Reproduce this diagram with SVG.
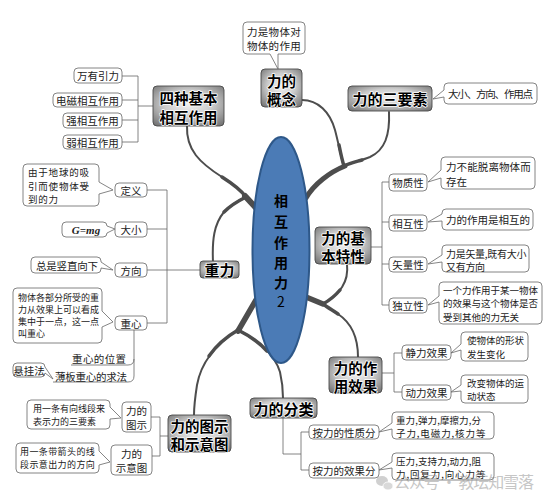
<svg xmlns="http://www.w3.org/2000/svg" width="552" height="501" viewBox="0 0 552 501">
<defs>
<radialGradient id="g" cx="50%" cy="45%" r="75%">
<stop offset="0" stop-color="#f2f2f2"/>
<stop offset="0.45" stop-color="#cccccc"/>
<stop offset="1" stop-color="#666666"/>
</radialGradient>
</defs>
<style>
.main rect{fill:url(#g);stroke:#4a4a4a;stroke-width:0.9}
.main text{font-family:"Noto Sans CJK SC","Noto Sans",sans-serif;font-weight:700;font-size:14.5px;fill:#000;stroke:#fff;stroke-width:1.5;stroke-linejoin:round;paint-order:stroke;text-anchor:middle;dominant-baseline:central}
.leaf rect,.leaf path{fill:#fff;stroke:#666;stroke-width:0.8}
.leaf text{font-family:"Noto Sans CJK SC","Noto Sans",sans-serif;font-size:10.5px;fill:#222;dominant-baseline:central}
.c{text-anchor:middle}
.br{fill:none;stroke:#4d4d4d;stroke-linecap:round}
.thin{fill:none;stroke:#666;stroke-width:0.8}
.plain{font-family:"Noto Sans CJK SC","Noto Sans",sans-serif;font-size:10.5px;fill:#222;dominant-baseline:central}
</style>
<rect width="552" height="501" fill="#fff"/>

<g id="connectors">
<path class="br" stroke-width="2" d="M187,126 C186,150 200,163 222,177 C233,184 241,190 246,197"/>
<path class="br" stroke-width="2" d="M213,262 C212,240 214,224 224,212 C232,204 240,200 246,197"/>
<path class="br" stroke-width="3.5" d="M222,177 C233,184 241,190 246,197"/>
<path class="br" stroke-width="3.5" d="M224,212 C232,204 240,200 246,197"/>
<path class="br" stroke-width="6" d="M245,196 L257,209"/>

<path class="br" stroke-width="2" d="M302,100 C318,100 330,112 335,130 C339,145 341,158 344,166"/>
<path class="br" stroke-width="2" d="M389,112 C390,135 385,150 370,157 C360,161 350,163 344,166"/>
<path class="br" stroke-width="3.5" d="M339,145 C341,155 342,160 344,166"/>
<path class="br" stroke-width="3.5" d="M362,160 C355,162 350,163 344,166"/>
<path class="br" stroke-width="5" d="M345,166 C330,172 314,184 306,198"/>

<path class="br" stroke-width="2" d="M347,264 C349,282 340,294 323,304"/>
<path class="br" stroke-width="2" d="M358,357 C358,335 350,322 338,314 C332,310 327,307 323,304"/>
<path class="br" stroke-width="3.5" d="M340,290 C335,296 330,300 323,304"/>
<path class="br" stroke-width="3.5" d="M338,314 C332,310 327,307 323,304"/>
<path class="br" stroke-width="5.5" d="M323,304 L306,297"/>

<path class="br" stroke-width="2" d="M238,330 C216,344 201,363 197,385 C195,398 194,408 194,415"/>
<path class="br" stroke-width="2" d="M238,330 C258,340 275,355 280,372 C283,385 283,392 283,398"/>
<path class="br" stroke-width="3.5" d="M238,330 C226,337 216,346 209,356"/>
<path class="br" stroke-width="3.5" d="M238,330 C250,336 260,343 267,351"/>
<path class="br" stroke-width="5.5" d="M238,331 L256,300"/>

<path class="thin" d="M122,76 H138 M122,100 H138 M122,120 H138 M122,142 H138 M138,76 V142 M138,106 H153"/>
<path class="thin" d="M147,190 H167 M147,229 H167 M147,270 H200 M147,323 H167 M167,190 V323"/>
<path class="thin" d="M134,330 V376 Q134,382 128,382 H53 M134,359 Q134,365 128,365 H71"/>
<path class="thin" d="M371,247 H382 M382,182 V305 M382,182 H389 M382,222 H389 M382,264 H389 M382,305 H389"/>
<path class="thin" d="M382,373 H394 M394,353 V392 M394,353 H402 M394,392 H402"/>
<path class="thin" d="M283,418 V454 H301 M301,432 V470 M301,432 H309 M301,470 H309"/>
<path class="thin" d="M168,436 H160 M160,417 V456 M160,417 H151 M160,456 H152"/>
</g>

<g id="center">
<ellipse cx="281" cy="250" rx="28.5" ry="113" fill="#4b7bb6" stroke="#2e5889" stroke-width="2"/>
<text font-family="'Noto Sans CJK SC','Noto Sans',sans-serif" font-weight="700" font-size="14" fill="#000" text-anchor="middle" dominant-baseline="central"><tspan x="281" y="200">相</tspan><tspan x="281" y="221">互</tspan><tspan x="281" y="242">作</tspan><tspan x="281" y="262">用</tspan><tspan x="281" y="282">力</tspan><tspan x="281" y="301" font-weight="400">2</tspan></text>
</g>

<g id="n-sizhong" class="main"><rect x="153" y="86" width="71" height="40" rx="4"/><text><tspan x="188.5" y="97">四种基本</tspan><tspan x="188.5" y="116">相互作用</tspan></text></g>
<g id="n-gainian" class="main"><rect x="261" y="69" width="41" height="38" rx="4"/><text><tspan x="281.5" y="79.5">力的</tspan><tspan x="281.5" y="97.5">概念</tspan></text></g>
<g id="n-sanyaosu" class="main"><rect x="348" y="86" width="84" height="25" rx="4"/><text x="390" y="98.5" style="font-size:15px">力的三要素</text></g>
<g id="n-texing" class="main"><rect x="315" y="227" width="56" height="37" rx="4"/><text><tspan x="343" y="237">力的基</tspan><tspan x="343" y="255">本特性</tspan></text></g>
<g id="n-zhongli" class="main"><rect x="200" y="261" width="39" height="17" rx="3"/><text x="219.5" y="269.5" style="font-size:15px">重力</text></g>
<g id="n-xiaoguo" class="main"><rect x="329" y="357" width="53" height="36" rx="4"/><text><tspan x="355.5" y="366.5">力的作</tspan><tspan x="355.5" y="384.5">用效果</tspan></text></g>
<g id="n-fenlei" class="main"><rect x="250" y="398" width="67" height="20" rx="4"/><text x="283.5" y="408" style="font-size:15px">力的分类</text></g>
<g id="n-tushi" class="main"><rect x="168" y="415" width="63" height="37" rx="4"/><text><tspan x="199.5" y="424.5">力的图示</tspan><tspan x="199.5" y="442.5">和示意图</tspan></text></g>

<g id="l-wanyou" class="leaf"><rect x="74" y="68" width="48" height="15" rx="4"/><text class="c" x="98" y="75.5">万有引力</text></g>
<g id="l-dianci" class="leaf"><rect x="53" y="93" width="69" height="14" rx="4"/><text class="c" x="87.5" y="100">电磁相互作用</text></g>
<g id="l-qiang" class="leaf"><rect x="63" y="113" width="59" height="15" rx="4"/><text class="c" x="92.5" y="120.5">强相互作用</text></g>
<g id="l-ruo" class="leaf"><rect x="63" y="135" width="59" height="14" rx="4"/><text class="c" x="92.5" y="142">弱相互作用</text></g>

<g id="l-gainian-desc" class="leaf"><path d="M247,22 H301 Q305,22 305,26 V50 Q305,54 301,54 H278 L278,69 L270,54 H247 Q243,54 243,50 V26 Q243,22 247,22 Z"/><text letter-spacing="0.3"><tspan x="247" y="31">力是物体对</tspan><tspan x="247" y="45">物体的作用</tspan></text></g>
<g id="l-sanyaosu-desc" class="leaf"><path d="M448,83 H533 Q537,83 537,87 V100 Q537,104 533,104 H448 Q444,104 444,100 V97 L433,99 L444,90 V87 Q444,83 448,83 Z"/><text x="448" y="93.5" textLength="85">大小、方向、作用点</text></g>

<g id="l-wuzhi" class="leaf"><rect x="389" y="174" width="38" height="17" rx="4"/><text class="c" x="408" y="182.5">物质性</text></g>
<g id="l-xianghu" class="leaf"><rect x="389" y="215" width="38" height="16" rx="4"/><text class="c" x="408" y="223">相互性</text></g>
<g id="l-shiliang" class="leaf"><rect x="389" y="257" width="38" height="15" rx="4"/><text class="c" x="408" y="264.5">矢量性</text></g>
<g id="l-duli" class="leaf"><rect x="389" y="298" width="38" height="15" rx="4"/><text class="c" x="408" y="305.5">独立性</text></g>
<g id="l-wuzhi-desc" class="leaf"><path d="M445,157 H531 Q535,157 535,161 V185 Q535,189 531,189 H445 Q441,189 441,185 V178 L428,182 L441,170 V161 Q441,157 445,157 Z"/><text letter-spacing="0.1"><tspan x="446" y="166">力不能脱离物体而</tspan><tspan x="446" y="181">存在</tspan></text></g>
<g id="l-xianghu-desc" class="leaf"><path d="M446,209 H529 Q533,209 533,213 V226 Q533,230 529,230 H446 Q442,230 442,226 V221 L428,222 L442,214 V213 Q442,209 446,209 Z"/><text x="446" y="219.5" textLength="84">力的作用是相互的</text></g>
<g id="l-shiliang-desc" class="leaf"><path d="M446,245 H525 Q529,245 529,249 V268 Q529,272 525,272 H446 Q442,272 442,268 V262 L428,264 L442,255 V249 Q442,245 446,245 Z"/><text letter-spacing="-0.3" style="font-size:10px"><tspan x="446" y="252.5">力是矢量,既有大小</tspan><tspan x="446" y="265.5">又有方向</tspan></text></g>
<g id="l-duli-desc" class="leaf"><path d="M443,282 H538 Q542,282 542,286 V320 Q542,324 538,324 H443 Q439,324 439,320 V302 L428,305 L439,296 V286 Q439,282 443,282 Z"/><text style="font-size:9.5px"><tspan x="443" y="289.5">一个力作用于某一物体</tspan><tspan x="443" y="303">的效果与这个物体是否</tspan><tspan x="443" y="316.5">受到其他的力无关</tspan></text></g>

<g id="l-jingli" class="leaf"><rect x="402" y="345" width="49" height="15" rx="4"/><text class="c" x="426.5" y="352.5">静力效果</text></g>
<g id="l-dongli" class="leaf"><rect x="402" y="385" width="49" height="15" rx="4"/><text class="c" x="426.5" y="392.5">动力效果</text></g>
<g id="l-jingli-desc" class="leaf"><path d="M465,332 H524 Q528,332 528,336 V357 Q528,361 524,361 H465 Q461,361 461,357 V350 L451,353 L461,344 V336 Q461,332 465,332 Z"/><text style="font-size:9.5px"><tspan x="467" y="340">使物体的形状</tspan><tspan x="467" y="354">发生变化</tspan></text></g>
<g id="l-dongli-desc" class="leaf"><path d="M465,375 H524 Q528,375 528,379 V399 Q528,403 524,403 H465 Q461,403 461,399 V391 L451,392 L461,385 V379 Q461,375 465,375 Z"/><text style="font-size:9.5px"><tspan x="467" y="383">改变物体的运</tspan><tspan x="467" y="396">动状态</tspan></text></g>

<g id="l-xingzhi" class="leaf"><rect x="309" y="425" width="70" height="14" rx="4"/><text class="c" x="344" y="432">按力的性质分</text></g>
<g id="l-xiaoguofen" class="leaf"><rect x="309" y="463" width="70" height="15" rx="4"/><text class="c" x="344" y="470.5">按力的效果分</text></g>
<g id="l-xingzhi-desc" class="leaf"><path d="M396,412 H490 Q494,412 494,416 V435 Q494,439 490,439 H396 Q392,439 392,435 V429 L379,432 L392,423 V416 Q392,412 396,412 Z"/><text style="font-size:9.5px" letter-spacing="0.1"><tspan x="396" y="419.5">重力,弹力,摩擦力,分</tspan><tspan x="396" y="432.5" letter-spacing="0.9">子力,电磁力,核力等</tspan></text></g>
<g id="l-xiaoguo-desc" class="leaf"><path d="M396,453 H490 Q494,453 494,457 V476 Q494,480 490,480 H396 Q392,480 392,476 V468 L379,470 L392,462 V457 Q392,453 396,453 Z"/><text style="font-size:9.5px" letter-spacing="0.1"><tspan x="396" y="460.5">压力,支持力,动力,阻</tspan><tspan x="396" y="473.5" letter-spacing="0.9">力,回复力,向心力等</tspan></text></g>

<g id="l-dingyi" class="leaf"><rect x="115" y="183" width="32" height="14" rx="4"/><text class="c" x="131" y="190">定义</text></g>
<g id="l-daxiao" class="leaf"><rect x="115" y="222" width="32" height="15" rx="4"/><text class="c" x="131" y="229.5">大小</text></g>
<g id="l-fangxiang" class="leaf"><rect x="115" y="263" width="32" height="14" rx="4"/><text class="c" x="131" y="270">方向</text></g>
<g id="l-zhongxin" class="leaf"><rect x="115" y="316" width="32" height="14" rx="4"/><text class="c" x="131" y="323">重心</text></g>
<g id="l-dingyi-desc" class="leaf"><path d="M27,164 H95 Q99,164 99,168 V182 L113,190 L99,194 V202 Q99,206 95,206 H27 Q23,206 23,202 V168 Q23,164 27,164 Z"/><text style="font-size:9.5px" letter-spacing="0.8"><tspan x="28" y="172">由于地球的吸</tspan><tspan x="28" y="186">引而使物体受</tspan><tspan x="28" y="199">到的力</tspan></text></g>
<g id="l-daxiao-desc" class="leaf"><path d="M66,222 H103 Q107,222 107,226 L115,229 L107,233 Q107,237 103,237 H66 Q62,237 62,233 V226 Q62,222 66,222 Z"/><text x="86" y="229.5" text-anchor="middle" style="font-family:'Liberation Serif',serif;font-style:italic;font-weight:700;font-size:11px">G=mg</text></g>
<g id="l-fangxiang-desc" class="leaf"><path d="M35,257 H97 Q101,257 101,261 V262 L113,270 L101,268 V269 Q101,273 97,273 H35 Q31,273 31,269 V261 Q31,257 35,257 Z"/><text x="36" y="265" textLength="62">总是竖直向下</text></g>
<g id="l-zhongxin-desc" class="leaf"><path d="M17,288 H98 Q102,288 102,292 V311 L113,322 L102,327 V339 Q102,343 98,343 H17 Q13,343 13,339 V292 Q13,288 17,288 Z"/><text style="font-size:9px"><tspan x="18" y="297">物体各部分所受的重</tspan><tspan x="18" y="309">力从效果上可以看成</tspan><tspan x="18" y="321">集中于一点，这一点</tspan><tspan x="18" y="333">叫重心</tspan></text></g>
<g id="t-weizhi"><text class="plain" x="72" y="358" textLength="54">重心的位置</text></g>
<g id="t-qiufa"><text class="plain" x="55" y="376" textLength="72">薄板重心的求法</text></g>
<g id="l-xuangua" class="leaf"><path d="M17,363 H41 Q45,363 45,367 L53,379 L45,373 Q45,377 41,377 H17 Q13,377 13,373 V367 Q13,363 17,363 Z"/><text class="c" x="29" y="370">悬挂法</text></g>

<g id="l-lidetushi" class="leaf"><rect x="122" y="402" width="29" height="30" rx="4"/><text class="c"><tspan x="136.5" y="410">力的</tspan><tspan x="136.5" y="424">图示</tspan></text></g>
<g id="l-shiyitu" class="leaf"><rect x="111" y="445" width="41" height="30" rx="4"/><text class="c"><tspan x="131.5" y="453">力的</tspan><tspan x="131.5" y="467">示意图</tspan></text></g>
<g id="l-tushi-desc" class="leaf"><path d="M31,400 H106 Q110,400 110,404 V407 L121,418 L110,419 V425 Q110,429 106,429 H31 Q27,429 27,425 V404 Q27,400 31,400 Z"/><text style="font-size:9px"><tspan x="33" y="407.5">用一条有向线段来</tspan><tspan x="33" y="421">表示力的三要素</tspan></text></g>
<g id="l-shiyitu-desc" class="leaf"><path d="M20,443 H95 Q99,443 99,447 V451 L110,462 L99,465 V469 Q99,473 95,473 H20 Q16,473 16,469 V447 Q16,443 20,443 Z"/><text style="font-size:9px" letter-spacing="0.4"><tspan x="20" y="450.5">用一条带箭头的线</tspan><tspan x="20" y="464">段示意出力的方向</tspan></text></g>

<g id="watermark" opacity="0.55">
<ellipse cx="382" cy="481" rx="6" ry="5" fill="#aaa"/>
<ellipse cx="388" cy="486" rx="5" ry="4" fill="#bbb" stroke="#fff" stroke-width="0.8"/>
<text x="394" y="488" font-family="'Noto Sans CJK SC',sans-serif" font-size="16" fill="#999" textLength="140">公众号 · 教坛知雪落</text>
</g>
</svg>
